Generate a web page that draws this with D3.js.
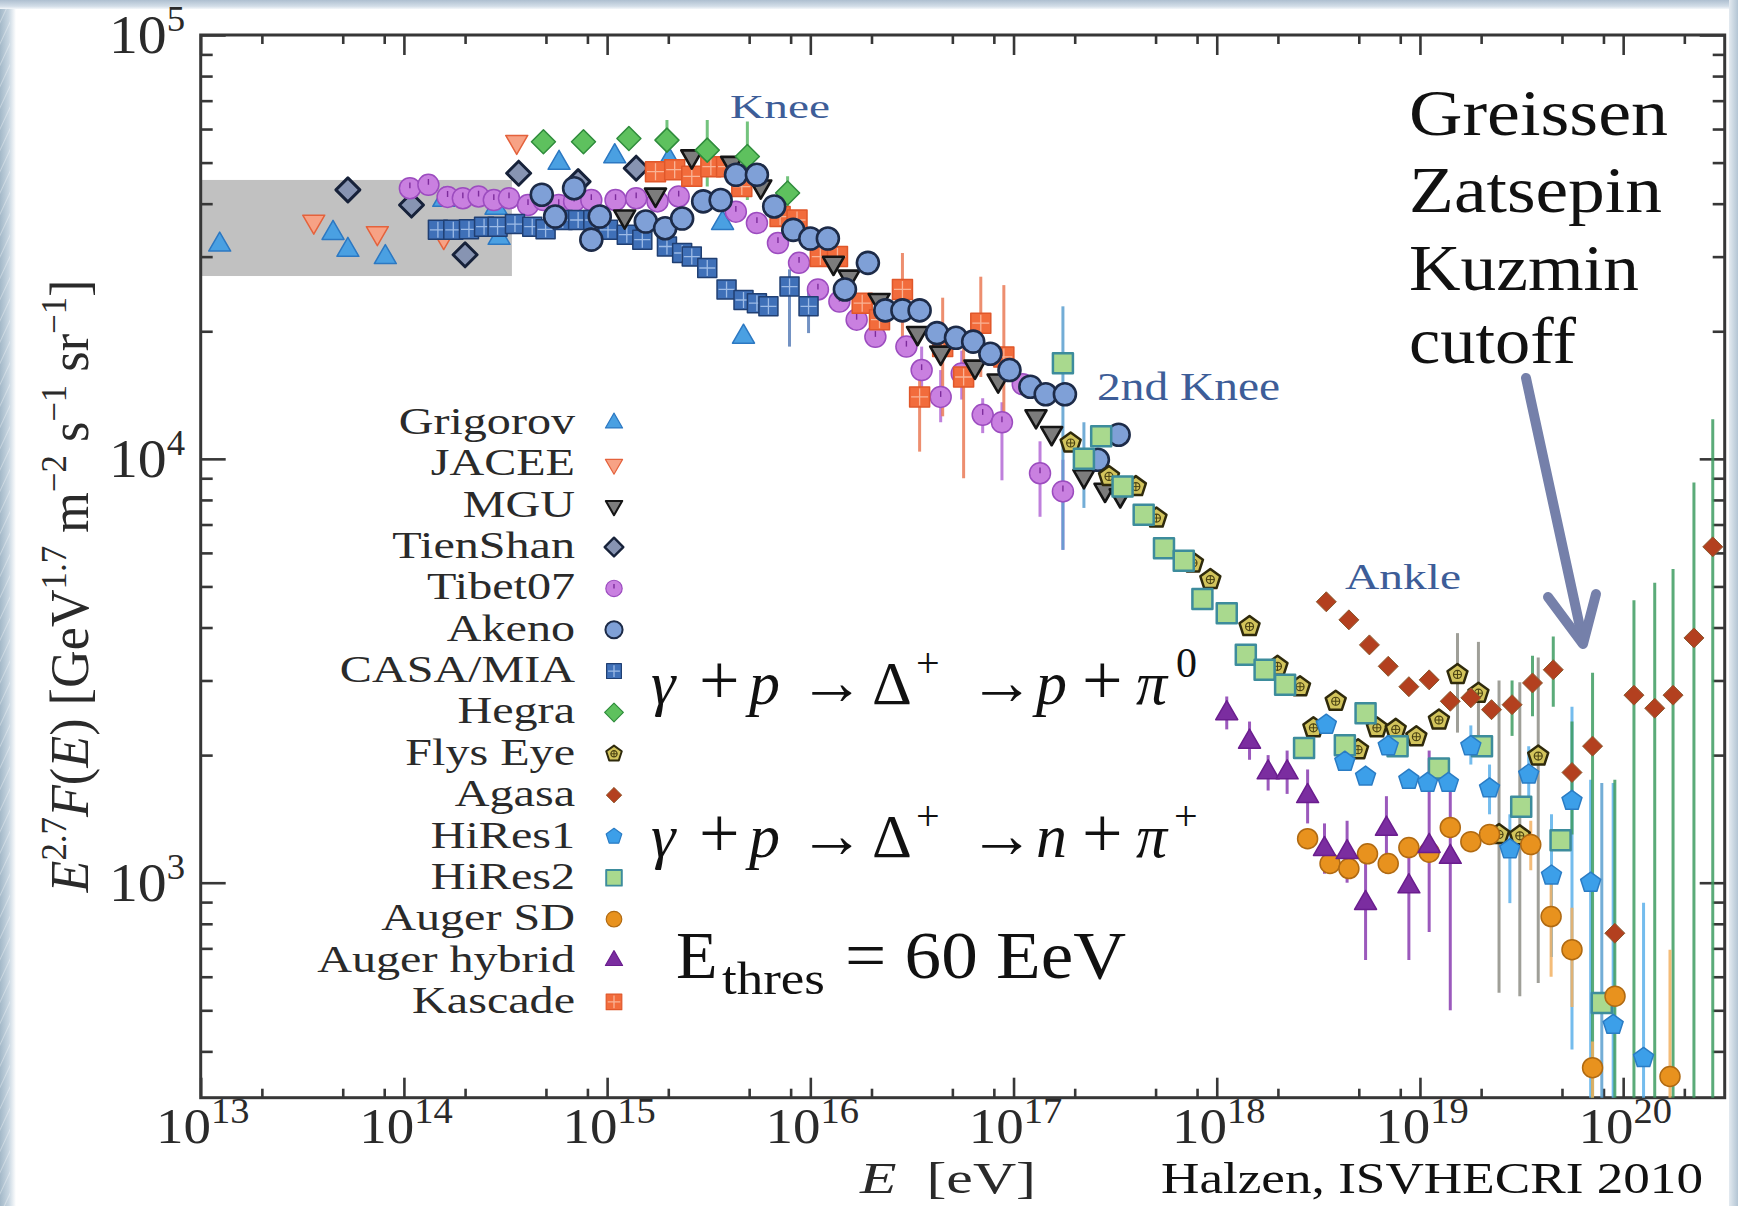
<!DOCTYPE html>
<html>
<head>
<meta charset="utf-8">
<title>Cosmic-ray energy spectrum</title>
<script src="https://cdn.jsdelivr.net/npm/d3@7/dist/d3.min.js"></script>
<style>
  html, body { margin: 0; padding: 0; background: #ffffff; }
  svg { display: block; }
  text { font-family: "Liberation Serif", "DejaVu Serif", serif; }
</style>
</head>
<body>
<svg id="chart" width="1738" height="1206" xmlns="http://www.w3.org/2000/svg"></svg>
<script>
// ---------------- axis ticks ----------------
const xTickExponents = [13, 14, 15, 16, 17, 18, 19, 20];
const yTickExponents = [3, 4, 5];
const xMinorMantissas = [2, 5, 8];
const yMinorMantissas = [2, 3, 4, 5, 6, 7, 8, 9];
const energyDomain = [1e13, 3.16e20];
const fluxDomain = [311, 1e5];

// ---------------- legend ----------------
const legendNames = ["Grigorov", "JACEE", "MGU", "TienShan", "Tibet07", "Akeno", "CASA/MIA",
  "Hegra", "Flys Eye", "Agasa", "HiRes1", "HiRes2", "Auger SD", "Auger hybrid", "Kascade"];

// ---------------- measurements: [E (eV), E^2.7 F(E), err low, err high] ----------------
const grigorov = [[1.24e13, 3.20e4], [4.48e13, 3.41e4], [5.3e13, 3.11e4], [8.1e13, 2.99e4],
  [1.57e14, 4.08e4], [2.84e14, 3.91e4], [2.94e14, 3.32e4], [5.8e14, 4.99e4], [1.09e15, 5.17e4],
  [2.02e15, 5.07e4], [3.70e15, 3.60e4], [4.69e15, 1.94e4]];
const jacee = [[3.6e13, 3.63e4], [7.4e13, 3.41e4], [1.57e14, 3.34e4], [3.59e14, 5.6e4]];
const mgu = [[1.22e15, 3.73e4], [1.73e15, 4.2e4], [2.61e15, 5.17e4], [4.1e15, 4.99e4], [5.7e15, 4.39e4],
  [1.30e16, 2.90e4], [1.55e16, 2.69e4], [2.18e16, 2.37e4], [3.37e16, 1.98e4], [4.38e16, 1.78e4],
  [6.46e16, 1.65e4], [8.4e16, 1.53e4], [1.29e17, 1.26e4], [1.54e17, 1.15e4], [2.22e17, 9.1e3],
  [2.82e17, 8.45e3], [3.35e17, 8.2e3]];
const tienShan = [[5.3e13, 4.31e4], [1.09e14, 3.97e4], [2.0e14, 3.03e4], [3.67e14, 4.72e4],
  [7.2e14, 4.51e4], [1.39e15, 4.85e4]];
const tibet07 = [[1.07e14, 4.35e4], [1.32e14, 4.43e4], [1.64e14, 4.15e4], [1.95e14, 4.12e4],
  [2.33e14, 4.16e4], [2.77e14, 4.08e4], [3.29e14, 4.12e4], [4.08e14, 3.97e4], [4.86e14, 4.08e4],
  [5.78e14, 3.97e4], [6.88e14, 4.05e4], [8.36e14, 4.08e4], [1.10e15, 4.08e4], [1.39e15, 4.12e4],
  [1.77e15, 4.05e4], [2.25e15, 4.16e4], [4.3e15, 3.83e4], [5.46e15, 3.6e4], [6.93e15, 3.23e4],
  [8.8e15, 2.9e4], [1.09e16, 2.51e4], [1.39e16, 2.35e4], [1.69e16, 2.13e4], [2.09e16, 1.94e4],
  [2.97e16, 1.84e4], [3.53e16, 1.62e4, 1.42e4, 1.84e4], [4.38e16, 1.40e4, 1.22e4, 1.62e4],
  [5.56e16, 1.59e4, 1.38e4, 1.80e4], [7.05e16, 1.27e4, 1.15e4, 1.39e4], [8.77e16, 1.22e4, 8.9e3, 1.36e4],
  [1.11e17, 1.5e4], [1.35e17, 9.25e3, 7.3e3, 1.1e4], [1.75e17, 8.38e3, 6.1e3, 9.95e3]];
const akeno = [[4.77e14, 4.2e4], [5.55e14, 3.73e4], [6.88e14, 4.35e4], [8.36e14, 3.29e4], [9.2e14, 3.73e4],
  [1.55e15, 3.63e4], [1.93e15, 3.5e4], [2.34e15, 3.69e4], [2.97e15, 4.05e4], [3.62e15, 4.08e4],
  [4.31e15, 4.68e4], [5.46e15, 4.68e4], [6.64e15, 3.94e4], [8.24e15, 3.47e4], [1.0e16, 3.31e4],
  [1.22e16, 3.31e4], [1.48e16, 2.51e4], [1.92e16, 2.9e4], [2.34e16, 2.24e4], [2.84e16, 2.24e4],
  [3.45e16, 2.24e4], [4.2e16, 1.98e4], [5.21e16, 1.93e4], [6.33e16, 1.89e4], [7.69e16, 1.77e4],
  [9.55e16, 1.62e4], [1.21e17, 1.48e4], [1.44e17, 1.42e4], [1.79e17, 1.42e4], [2.6e17, 9.95e3],
  [3.29e17, 1.14e4]];
const casaMia = [[1.47e14, 3.47e4], [1.75e14, 3.47e4], [2.09e14, 3.48e4], [2.48e14, 3.53e4],
  [2.89e14, 3.53e4], [3.52e14, 3.58e4], [4.28e14, 3.53e4], [4.98e14, 3.48e4], [6.05e14, 3.66e4],
  [7.2e14, 3.66e4], [8.55e14, 3.66e4], [1.01e15, 3.47e4], [1.25e15, 3.38e4], [1.49e15, 3.29e4],
  [1.97e15, 3.17e4], [2.34e15, 3.06e4], [2.61e15, 3.0e4], [3.11e15, 2.82e4], [3.87e15, 2.51e4],
  [4.69e15, 2.37e4], [5.46e15, 2.33e4], [6.22e15, 2.29e4], [7.9e15, 2.55e4, 1.84e4, 2.8e4],
  [9.8e15, 2.29e4, 1.98e4, 2.55e4]];
const hegra = [[4.86e14, 5.6e4], [7.65e14, 5.6e4], [1.28e15, 5.7e4], [1.97e15, 5.65e4, 5.07e4, 6.3e4],
  [3.11e15, 5.35e4, 4.39e4, 6.3e4], [4.9e15, 5.17e4, 4.08e4, 6.25e4], [7.73e15, 4.24e4, 3.73e4, 4.64e4]];
const flysEye = [[1.91e17, 1.09e4], [2.95e17, 9.09e3], [4.0e17, 8.6e3], [5.05e17, 7.25e3], [7.64e17, 5.68e3],
  [9.3e17, 5.19e3], [1.45e18, 4.02e3], [1.99e18, 3.24e3], [2.57e18, 2.9e3], [2.99e18, 2.32e3],
  [3.85e18, 2.68e3], [4.96e18, 2.06e3], [6.14e18, 2.32e3], [7.6e18, 2.3e3], [9.6e18, 2.21e3],
  [1.24e19, 2.42e3], [1.53e19, 3.1e3, 2.26e3, 3.88e3], [1.94e19, 2.8e3, 2.1e3, 3.7e3],
  [2.45e19, 1.3e3, 550, 3.0e3], [3.1e19, 1.29e3, 540, 2.97e3], [3.82e19, 1.99e3, 580, 3.4e3]];
const agasa = [[3.46e18, 4.6e3], [4.47e18, 4.17e3], [5.64e18, 3.64e3], [6.98e18, 3.24e3], [8.82e18, 2.9e3],
  [1.11e19, 3.01e3], [1.41e19, 2.68e3], [1.78e19, 2.73e3], [2.25e19, 2.56e3],
  [2.84e19, 2.63e3, 2.22e3, 3.0e3], [3.58e19, 2.96e3, 2.47e3, 3.43e3], [4.53e19, 3.18e3, 2.6e3, 3.81e3],
  [5.6e19, 1.82e3, 1.3e3, 2.4e3], [7.07e19, 2.1e3, 100, 3.13e3], [9.1e19, 760, 100, 1.75e3],
  [1.13e20, 2.77e3, 100, 4.64e3], [1.43e20, 2.58e3, 100, 5.1e3], [1.76e20, 2.77e3, 100, 5.5e3],
  [2.23e20, 3.78e3, 100, 8.8e3], [2.76e20, 6.2e3, 100, 1.24e4]];
const hiRes1 = [[3.46e18, 2.36e3], [4.27e18, 1.93e3], [5.4e18, 1.78e3], [6.98e18, 2.1e3], [8.82e18, 1.75e3],
  [1.09e19, 1.72e3], [1.38e19, 1.72e3], [1.78e19, 2.1e3, 1.9e3, 2.35e3], [2.2e19, 1.67e3, 1.45e3, 1.9e3],
  [2.77e19, 1.2e3, 895, 1.45e3], [3.43e19, 1.8e3, 1.5e3, 2.1e3], [4.44e19, 1.04e3, 668, 1.45e3],
  [5.6e19, 1.56e3, 404, 2.6e3], [6.92e19, 1.0e3, 100, 1.75e3], [8.93e19, 462, 100, 1.72e3],
  [1.26e20, 386, 100, 897]];
const hiRes2 = [[1.75e17, 1.68e4, 6.1e3, 2.29e4], [2.22e17, 1.0e4, 7.66e3, 1.22e4], [2.7e17, 1.13e4],
  [3.44e17, 8.6e3], [4.37e17, 7.38e3], [5.5e17, 6.15e3], [6.88e17, 5.75e3], [8.5e17, 4.67e3],
  [1.12e18, 4.32e3], [1.39e18, 3.45e3], [1.72e18, 3.18e3], [2.17e18, 2.93e3], [2.69e18, 2.08e3],
  [4.27e18, 2.11e3], [5.4e18, 2.51e3], [7.76e18, 2.1e3], [1.24e19, 1.86e3], [2.02e19, 2.1e3],
  [3.15e19, 1.51e3], [4.92e19, 1.26e3], [7.85e19, 520, 100, 1.72e3]];
const augerSD = [[2.8e18, 1.27e3], [3.61e18, 1.11e3], [4.47e18, 1.08e3], [5.52e18, 1.17e3], [6.98e18, 1.11e3],
  [8.82e18, 1.21e3], [1.11e19, 1.18e3], [1.41e19, 1.35e3], [1.78e19, 1.25e3], [2.2e19, 1.3e3],
  [3.51e19, 1.23e3, 1.07e3, 1.4e3], [4.42e19, 832, 600, 1.1e3], [5.6e19, 695, 509, 873],
  [7.07e19, 366, 100, 422], [9.12e19, 540], [1.7e20, 349, 100, 695]];
const augerHybrid = [[1.12e18, 2.51e3, 2.3e3, 2.75e3], [1.45e18, 2.15e3, 1.95e3, 2.4e3],
  [1.79e18, 1.82e3, 1.65e3, 2.0e3], [2.22e18, 1.82e3, 1.62e3, 2.05e3], [2.8e18, 1.6e3, 1.38e3, 1.85e3],
  [3.39e18, 1.2e3, 1.05e3, 1.38e3], [4.38e18, 1.18e3, 1.0e3, 1.4e3], [5.4e18, 895, 657, 1.18e3],
  [6.84e18, 1.34e3, 1.05e3, 1.6e3], [8.82e18, 980, 657, 1.15e3], [1.11e19, 1.22e3, 765, 2.05e3],
  [1.41e19, 1.15e3, 500, 1.72e3]];
const kascade = [[1.73e15, 4.76e4], [2.15e15, 4.81e4], [2.61e15, 4.64e4], [3.24e15, 4.89e4], [3.87e15, 4.89e4],
  [4.6e15, 4.39e4], [7.1e15, 3.73e4], [8.6e15, 3.66e4], [1.12e16, 3.0e4], [1.36e16, 3.0e4],
  [1.8e16, 2.33e4], [2.19e16, 2.13e4], [2.84e16, 2.51e4, 1.81e4, 3.06e4], [3.45e16, 1.4e4, 1.04e4, 1.68e4],
  [4.48e16, 1.84e4, 1.26e4, 2.4e4], [5.68e16, 1.56e4, 9.0e3, 1.84e4], [6.9e16, 2.09e4, 1.56e4, 2.69e4],
  [8.96e16, 1.74e4, 1.26e4, 2.57e4]];

// shaded band of direct measurements
const bandEnergy = [1e13, 3.4e14];
const bandFlux = [2.7e4, 4.55e4];

const seriesData = {
  "Grigorov": grigorov, "JACEE": jacee, "MGU": mgu, "TienShan": tienShan, "Tibet07": tibet07,
  "Akeno": akeno, "CASA/MIA": casaMia, "Hegra": hegra, "Flys Eye": flysEye, "Agasa": agasa,
  "HiRes1": hiRes1, "HiRes2": hiRes2, "Auger SD": augerSD, "Auger hybrid": augerHybrid, "Kascade": kascade
};

// ---------------- marker styles ----------------
const styles = {
  "Grigorov":     {shape: "triUp",    r: 11,   fill: "#4aa0e2", stroke: "#2c78c2", sw: 1.5},
  "JACEE":        {shape: "triDown",  r: 11,   fill: "#f7a285", stroke: "#e4623c", sw: 1.5},
  "MGU":          {shape: "triDown",  r: 10.5, fill: "#7c7c7c", stroke: "#151515", sw: 2.6},
  "TienShan":     {shape: "diamond",  r: 12,   fill: "#8794b2", stroke: "#17223a", sw: 3},
  "Tibet07":      {shape: "circle",   r: 10.5, fill: "#c980e0", stroke: "#9c4cbf", sw: 1.5, mark: "hand", markColor: "#7d2c9c", err: "#b46ad6"},
  "Akeno":        {shape: "circle",   r: 11,   fill: "#7fa0d7", stroke: "#1d2b48", sw: 2.6},
  "CASA/MIA":     {shape: "square",   r: 9.5,  fill: "#3f70b8", stroke: "#203f72", sw: 1.5, mark: "grid", markColor: "#9dbbe6", err: "#5a7fb8"},
  "Hegra":        {shape: "diamond",  r: 12,   fill: "#5ec15e", stroke: "#2f8c3c", sw: 1.5, err: "#5ab866"},
  "Flys Eye":     {shape: "pentagon", r: 10.5, fill: "#d2c45c", stroke: "#2f2a0c", sw: 2.5, mark: "ring", markColor: "#4a4212", err: "#8e8e86"},
  "Agasa":        {shape: "diamond",  r: 10,   fill: "#b3401f", stroke: "#8a5a30", sw: 1, err: "#3e9c62"},
  "HiRes1":       {shape: "pentagon", r: 10.5, fill: "#3c9fe9", stroke: "#2a7cc4", sw: 1.5, err: "#5cb0ea"},
  "HiRes2":       {shape: "square",   r: 10,   fill: "#a9d98e", stroke: "#3d8c9c", sw: 2.5, err: "#5a9fcf"},
  "Auger SD":     {shape: "circle",   r: 10,   fill: "#e8921e", stroke: "#b06a12", sw: 1.5, err: "#f2b060"},
  "Auger hybrid": {shape: "triUp",    r: 11,   fill: "#7b2da0", stroke: "#6a1d8e", sw: 1.5, err: "#8a3cb0"},
  "Kascade":      {shape: "square",   r: 10,   fill: "#f26c3c", stroke: "#e0572a", sw: 1.5, mark: "grid", markColor: "#f9b395", err: "#ea7a56"}
};
const drawOrder = ["Grigorov", "JACEE", "TienShan", "Tibet07", "CASA/MIA", "Kascade", "MGU", "Hegra",
  "Akeno", "Flys Eye", "HiRes2", "HiRes1", "Agasa", "Auger SD", "Auger hybrid"];

// ---------------- layout ----------------
const W = 1738, H = 1206;
const plot = {left: 200.7, right: 1724.7, top: 35, bottom: 1097.7};
const axisColor = "#373737";
const SERIF = "Liberation Serif, DejaVu Serif, serif";

const svg = d3.select("#chart");
const x = d3.scaleLog().domain(energyDomain).range([plot.left, plot.right]);
const y = d3.scaleLog().domain(fluxDomain).range([plot.bottom, plot.top]);

// ---------------- slide frame ----------------
const defs = svg.append("defs");
const gl = defs.append("linearGradient").attr("id", "leftEdge").attr("x1", 0).attr("x2", 1).attr("y1", 0).attr("y2", 0);
gl.append("stop").attr("offset", 0).attr("stop-color", "#a3b8c8");
gl.append("stop").attr("offset", 0.55).attr("stop-color", "#c9d7e2");
gl.append("stop").attr("offset", 1).attr("stop-color", "#ffffff");
const gt = defs.append("linearGradient").attr("id", "topEdge").attr("x1", 0).attr("x2", 0).attr("y1", 0).attr("y2", 1);
gt.append("stop").attr("offset", 0).attr("stop-color", "#aebfd0");
gt.append("stop").attr("offset", 0.7).attr("stop-color", "#d3dee8");
gt.append("stop").attr("offset", 1).attr("stop-color", "#f4f7fa");
const gr = defs.append("linearGradient").attr("id", "rightEdge").attr("x1", 0).attr("x2", 1).attr("y1", 0).attr("y2", 0);
gr.append("stop").attr("offset", 0).attr("stop-color", "#e3eaf0");
gr.append("stop").attr("offset", 1).attr("stop-color", "#b3c5d4");
const streaks = defs.append("pattern").attr("id", "streaks").attr("patternUnits", "userSpaceOnUse")
  .attr("width", 9).attr("height", 9).attr("patternTransform", "rotate(25)");
streaks.append("line").attr("x1", 0).attr("y1", 0).attr("x2", 0).attr("y2", 9)
  .attr("stroke", "#ffffff").attr("stroke-opacity", 0.45).attr("stroke-width", 1.5);

svg.append("rect").attr("width", W).attr("height", H).attr("fill", "#ffffff");
svg.append("rect").attr("x", 0).attr("y", 0).attr("width", 16).attr("height", H).attr("fill", "url(#leftEdge)");
svg.append("rect").attr("x", 0).attr("y", 0).attr("width", 10).attr("height", H).attr("fill", "url(#streaks)");
svg.append("rect").attr("x", 0).attr("y", 0).attr("width", W).attr("height", 9).attr("fill", "url(#topEdge)");
svg.append("rect").attr("x", 1729).attr("y", 0).attr("width", W - 1729).attr("height", H).attr("fill", "url(#rightEdge)");

defs.append("clipPath").attr("id", "plotClip").append("rect")
  .attr("x", plot.left).attr("y", plot.top).attr("width", plot.right - plot.left).attr("height", plot.bottom - plot.top);

// ---------------- shaded band ----------------
svg.append("rect")
  .attr("x", x(bandEnergy[0])).attr("width", x(bandEnergy[1]) - x(bandEnergy[0]))
  .attr("y", y(bandFlux[1])).attr("height", y(bandFlux[0]) - y(bandFlux[1]))
  .attr("fill", "#c1c1c1");

// ---------------- axes ----------------
const xMajor = xTickExponents.map(e => Math.pow(10, e));
const xMinor = [];
xTickExponents.forEach(e => xMinorMantissas.forEach(m => {
  const v = m * Math.pow(10, e);
  if (v < energyDomain[1]) xMinor.push(v);
}));
const yMajor = yTickExponents.map(e => Math.pow(10, e));
const yMinor = [];
[2, 3, 4].forEach(e => yMinorMantissas.forEach(m => {
  const v = m * Math.pow(10, e);
  if (v > fluxDomain[0] && v < fluxDomain[1]) yMinor.push(v);
}));

function styleAxis(g) {
  g.select(".domain").remove();
  g.selectAll("line").attr("stroke", axisColor).attr("stroke-width", 2.6);
  g.selectAll("text").remove();
}
const axes = svg.append("g");
axes.append("g").attr("transform", `translate(0,${plot.bottom})`).call(d3.axisBottom(x).tickValues(xMajor).tickSize(-20)).call(styleAxis);
axes.append("g").attr("transform", `translate(0,${plot.bottom})`).call(d3.axisBottom(x).tickValues(xMinor).tickSize(-9)).call(styleAxis);
axes.append("g").attr("transform", `translate(0,${plot.top})`).call(d3.axisTop(x).tickValues(xMajor).tickSize(-20)).call(styleAxis);
axes.append("g").attr("transform", `translate(0,${plot.top})`).call(d3.axisTop(x).tickValues(xMinor).tickSize(-9)).call(styleAxis);
axes.append("g").attr("transform", `translate(${plot.left},0)`).call(d3.axisLeft(y).tickValues(yMajor).tickSize(-25)).call(styleAxis);
axes.append("g").attr("transform", `translate(${plot.left},0)`).call(d3.axisLeft(y).tickValues(yMinor).tickSize(-12)).call(styleAxis);
axes.append("g").attr("transform", `translate(${plot.right},0)`).call(d3.axisRight(y).tickValues(yMajor).tickSize(-25)).call(styleAxis);
axes.append("g").attr("transform", `translate(${plot.right},0)`).call(d3.axisRight(y).tickValues(yMinor).tickSize(-12)).call(styleAxis);
axes.append("rect").attr("x", plot.left).attr("y", plot.top)
  .attr("width", plot.right - plot.left).attr("height", plot.bottom - plot.top)
  .attr("fill", "none").attr("stroke", axisColor).attr("stroke-width", 3);

// power-of-ten tick labels
function powerLabel(g, px, py, exp, anchor, size, supSize, rise, sx) {
  const t = g.append("text")
    .attr("transform", `translate(${px},${py}) scale(${sx},1)`)
    .attr("font-family", SERIF)
    .attr("text-anchor", anchor).attr("font-size", size).attr("fill", "#2a2a2a");
  t.append("tspan").text("10");
  t.append("tspan").attr("font-size", supSize).attr("dy", -rise).text(exp);
  return t;
}
const labels = svg.append("g");
xTickExponents.forEach(e => powerLabel(labels, x(Math.pow(10, e)) + 2, 1143, e, "middle", 50, 35, 20, 1.1));
yTickExponents.forEach(e => powerLabel(labels, 185, y(Math.pow(10, e)) + 18, e, "end", 55, 35, 22, 1.05));

// axis titles
const xt = svg.append("text").attr("x", 860).attr("y", 1193).attr("font-size", 45)
  .attr("font-family", SERIF)
  .attr("textLength", 176).attr("lengthAdjust", "spacingAndGlyphs").attr("fill", "#2a2a2a");
xt.append("tspan").attr("font-style", "italic").text("E");
xt.append("tspan").text("\u2002[eV]");

const yt = svg.append("text")
  .attr("transform", "translate(88,586) rotate(-90)")
  .attr("font-family", SERIF)
  .attr("text-anchor", "middle").attr("font-size", 54).attr("fill", "#2a2a2a")
  .attr("textLength", 613).attr("lengthAdjust", "spacingAndGlyphs");
const ytParts = [
  {t: "E", it: true}, {t: "2.7", sup: true}, {t: "F", it: true}, {t: "("}, {t: "E", it: true},
  {t: ") [GeV"}, {t: "1.7", sup: true}, {t: " m"}, {t: "\u22122", sup: true}, {t: " s"},
  {t: "\u22121", sup: true}, {t: " sr"}, {t: "\u22121", sup: true}, {t: "]"}
];
let raised = false;
ytParts.forEach(p => {
  const s = yt.append("tspan").text(p.t);
  if (p.it) s.attr("font-style", "italic");
  if (p.sup) { s.attr("font-size", 36).attr("dy", -22); raised = true; }
  else if (raised) { s.attr("dy", 22); raised = false; }
});

// ---------------- marker shapes ----------------
function shapePath(shape, r) {
  switch (shape) {
    case "circle": return `M${r},0A${r},${r} 0 1,1 ${-r},0A${r},${r} 0 1,1 ${r},0Z`;
    case "square": return `M${-r},${-r}H${r}V${r}H${-r}Z`;
    case "diamond": return `M0,${-r}L${r},0L0,${r}L${-r},0Z`;
    case "triUp": return `M0,${-1.155 * r}L${r},${0.577 * r}L${-r},${0.577 * r}Z`;
    case "triDown": return `M0,${1.155 * r}L${r},${-0.577 * r}L${-r},${-0.577 * r}Z`;
    case "pentagon": {
      const pts = d3.range(5).map(k => {
        const a = -Math.PI / 2 + k * 2 * Math.PI / 5;
        return [r * Math.cos(a), r * Math.sin(a)];
      });
      return "M" + pts.map(p => p.join(",")).join("L") + "Z";
    }
  }
}
function drawMarker(g, st, scale) {
  const r = st.r * scale;
  g.append("path").attr("d", shapePath(st.shape, r))
    .attr("fill", st.fill).attr("stroke", st.stroke).attr("stroke-width", st.sw * scale)
    .attr("stroke-linejoin", "round");
  if (st.mark === "grid") {
    g.append("path").attr("d", `M${-r + 1.5},0H${r - 1.5}M0,${-r + 1.5}V${r - 1.5}`)
      .attr("stroke", st.markColor).attr("stroke-width", 1.3);
  } else if (st.mark === "ring") {
    g.append("circle").attr("r", r * 0.38).attr("fill", "none").attr("stroke", st.markColor).attr("stroke-width", 1.2);
    g.append("path").attr("d", `M${-r * 0.38},0H${r * 0.38}M0,${-r * 0.38}V${r * 0.38}`)
      .attr("stroke", st.markColor).attr("stroke-width", 1);
  } else if (st.mark === "hand") {
    g.append("path").attr("d", `M0,${-r * 0.55}V0`).attr("stroke", st.markColor).attr("stroke-width", 1.4);
  }
}

// ---------------- error bars ----------------
const plotLayer = svg.append("g").attr("clip-path", "url(#plotClip)");
const errLayer = plotLayer.append("g");
drawOrder.forEach(name => {
  const st = styles[name];
  const withErr = seriesData[name].filter(d => d.length === 4);
  errLayer.selectAll(null).data(withErr).join("line")
    .attr("x1", d => x(d[0])).attr("x2", d => x(d[0]))
    .attr("y1", d => y(d[2])).attr("y2", d => y(d[3]))
    .attr("stroke", st.err || st.stroke).attr("stroke-width", 3).attr("stroke-opacity", 0.85);
});

// ---------------- data markers ----------------
const markLayer = plotLayer.append("g");
drawOrder.forEach(name => {
  const st = styles[name];
  markLayer.append("g").selectAll("g").data(seriesData[name]).join("g")
    .attr("transform", d => `translate(${x(d[0])},${y(d[1])})`)
    .each(function () { drawMarker(d3.select(this), st, 1); });
});

// ---------------- legend ----------------
const legend = svg.append("g");
const rowY = i => 423 + i * 41.35;
legendNames.forEach((name, i) => {
  legend.append("text")
    .attr("transform", `translate(575,${rowY(i) + 11}) scale(1.3,1)`)
    .attr("font-family", SERIF)
    .attr("text-anchor", "end").attr("font-size", 37).attr("fill", "#2a2a2a").text(name);
  const g = legend.append("g").attr("transform", `translate(614,${rowY(i)})`);
  drawMarker(g, styles[name], 0.78);
});

// ---------------- spectral feature labels ----------------
const featureColor = "#3d5d98";
[["Knee", 730, 118, 33, 100], ["2nd Knee", 1097, 400, 40, 183], ["Ankle", 1345, 589, 36, 116]]
  .forEach(([t, px, py, fs, len]) => {
    svg.append("text").attr("x", px).attr("y", py).attr("font-size", fs).attr("fill", featureColor)
      .attr("font-family", SERIF)
      .attr("textLength", len).attr("lengthAdjust", "spacingAndGlyphs").text(t);
  });

// ---------------- GZK annotation ----------------
const gzk = svg.append("g").attr("fill", "#111");
[["Greissen", 135, 259], ["Zatsepin", 212, 253], ["Kuzmin", 290, 230], ["cutoff", 363, 167]]
  .forEach(([t, py, len]) => {
    gzk.append("text").attr("x", 1409).attr("y", py).attr("font-size", 66)
      .attr("font-family", SERIF)
      .attr("textLength", len).attr("lengthAdjust", "spacingAndGlyphs").text(t);
  });
const arrowColor = "#7580aa";
svg.append("line").attr("x1", 1526).attr("y1", 378).attr("x2", 1583).attr("y2", 641)
  .attr("stroke", arrowColor).attr("stroke-width", 10).attr("stroke-linecap", "round");
svg.append("path").attr("d", "M1548,597L1583,644L1596,594")
  .attr("fill", "none").attr("stroke", arrowColor).attr("stroke-width", 10)
  .attr("stroke-linecap", "round").attr("stroke-linejoin", "round");

// ---------------- photo-pion reactions ----------------
const tokenSize = {it: 62, op: 72, arrow: 66, up: 62, sup: 42};
function reaction(py, tokens) {
  const t = svg.append("text").attr("font-family", SERIF).attr("fill", "#111");
  tokens.forEach(([s, px, kind]) => {
    const sp = t.append("tspan").attr("x", px).attr("y", kind === "sup" ? py - 27 : py)
      .attr("font-size", tokenSize[kind]).text(s);
    if (kind === "it") sp.attr("font-style", "italic");
  });
}
reaction(704, [["\u03b3", 651, "it"], ["+", 699, "op"], ["p", 749, "it"], ["\u2192", 799, "arrow"], ["\u0394", 872, "up"],
  ["+", 916, "sup"], ["\u2192", 969, "arrow"], ["p", 1036, "it"], ["+", 1082, "op"], ["\u03c0", 1136, "it"], ["0", 1176, "sup"]]);
reaction(857, [["\u03b3", 651, "it"], ["+", 699, "op"], ["p", 749, "it"], ["\u2192", 799, "arrow"], ["\u0394", 872, "up"],
  ["+", 916, "sup"], ["\u2192", 969, "arrow"], ["n", 1036, "it"], ["+", 1082, "op"], ["\u03c0", 1136, "it"], ["+", 1174, "sup"]]);

// threshold energy
const th = svg.append("g").attr("fill", "#111");
th.append("text").attr("x", 676).attr("y", 978).attr("font-size", 68).attr("font-family", SERIF).text("E");
th.append("text").attr("x", 722).attr("y", 994).attr("font-size", 46).attr("font-family", SERIF)
  .attr("textLength", 103).attr("lengthAdjust", "spacingAndGlyphs").text("thres");
th.append("text").attr("x", 845).attr("y", 978).attr("font-size", 68).attr("font-family", SERIF)
  .attr("textLength", 281).attr("lengthAdjust", "spacingAndGlyphs").text("= 60 EeV");

// source
svg.append("text").attr("x", 1161).attr("y", 1193).attr("font-size", 44).attr("fill", "#111")
  .attr("font-family", SERIF)
  .attr("textLength", 542).attr("lengthAdjust", "spacingAndGlyphs").text("Halzen, ISVHECRI 2010");
</script>
</body>
</html>
